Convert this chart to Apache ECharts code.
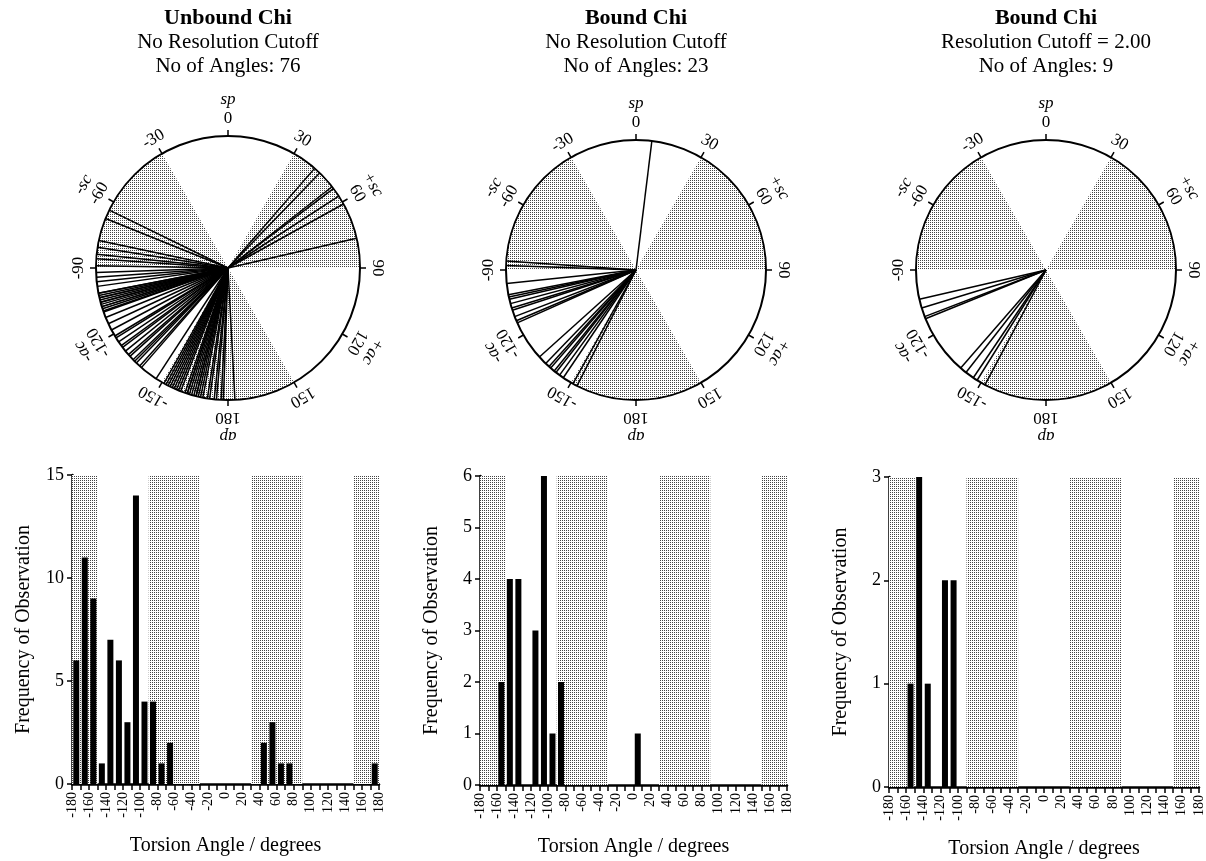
<!DOCTYPE html>
<html><head><meta charset="utf-8">
<script src="https://cdn.jsdelivr.net/npm/echarts@6/dist/echarts.min.js"></script>
<style>html,body{margin:0;padding:0;background:#fff}#c{width:1206px;height:861px}</style>
</head><body><div id="c"></div>
<script>
// ---------- data ----------
const titles = ['Unbound Chi', 'Bound Chi', 'Bound Chi'];
const subtitles1 = ['No Resolution Cutoff', 'No Resolution Cutoff', 'Resolution Cutoff = 2.00'];
const subtitles2 = ['No of Angles: 76', 'No of Angles: 23', 'No of Angles: 9'];

// individual torsion angles (degrees) drawn as rays on each dial
const unboundAngles = [
  -171, -172, -174, -175, -177, -178,
  -161, -162, -162, -163, -164, -165, -166, -166, -167, -168, -169,
  -151, -152, -153, -154, -155, -156, -157, -158, -159,
  -147,
  -131, -132, -134, -135, -136, -138, -139,
  -121, -122, -124, -126, -127, -129,
  -112, -115, -118,
  -101, -101, -102, -103, -103, -104, -105, -105, -106, -107, -107, -108, -109, -109.5,
  -92, -94, -96, -98,
  -81, -84, -86, -89,
  -78,
  -64, -68,
  41, 44,
  52, 53, 57,
  61,
  77,
  177
];
const boundAngles = [
  -151, -153,
  -141, -142, -144, -146,
  -132, -136, -138, -139,
  -111, -113, -114,
  -101, -102, -103, -105, -107, -108,
  -96,
  -86, -88,
  7
];
const boundCutAngles = [
  -152,
  -142, -146, -148,
  -139,
  -111, -112,
  -103, -107
];

// histogram bins (bin centre, degrees) and frequencies
const unboundBins   = [-175, -165, -155, -145, -135, -125, -115, -105, -95, -85, -75, -65, 45, 55, 65, 75, 175];
const unboundCounts = [6, 11, 9, 1, 7, 6, 3, 14, 4, 4, 1, 2, 2, 3, 1, 1, 1];
const boundBins     = [-155, -145, -135, -115, -105, -95, -85, 5];
const boundCounts   = [2, 4, 4, 3, 6, 1, 2, 1];
const boundCutBins  = [-155, -145, -135, -115, -105];
const boundCutCounts = [1, 3, 1, 2, 2];

const yMaxes = [15, 6, 3];
const yIntervals = [5, 1, 1];

// dial annotations
const dialTicks = [0, 30, 60, 90, 120, 150, 180, -150, -120, -90, -60, -30];
const regionNames = ['sp', '+sc', '+ac', 'ap', '-ac', '-sc'];
const regionAngles = [0, 60, 120, 180, -120, -60];
// shaded (sc / ap) ranges, used on dials and histograms
const shadedRanges = [[-90, -30], [30, 90], [150, 180], [-180, -150]];

// ---------- layout ----------
const dialCenters = [[228, 268], [636, 270], [1046, 270]];
const dialRadii = [132, 130, 130];
const grids = [
  {left: 72, top: 475, width: 307, height: 309},
  {left: 480, top: 476, width: 307, height: 309},
  {left: 889, top: 477, width: 311, height: 310}
];
const FONT = 'Liberation Serif, Times New Roman, serif';

// dotted pattern
const pc = document.createElement('canvas');
pc.width = 2; pc.height = 2;
const pctx = pc.getContext('2d');
pctx.fillStyle = '#ffffff'; pctx.fillRect(0, 0, 2, 2);
pctx.fillStyle = '#444444';
pctx.fillRect(0, 0, 1, 1);
const dotted = {image: pc, repeat: 'repeat'};

const angleSets = [unboundAngles, boundAngles, boundCutAngles];
const binSets = [unboundBins, boundBins, boundCutBins];
const countSets = [unboundCounts, boundCounts, boundCutCounts];

function radial(api, a, extra) {
  const c = api.coord([0, a]);
  const e = api.coord([1, a]);
  const dx = e[0] - c[0], dy = e[1] - c[1];
  const r = Math.sqrt(dx * dx + dy * dy);
  const k = (r + extra) / r;
  return [c[0] + dx * k, c[1] + dy * k];
}

const option = {
  backgroundColor: '#fff',
  animation: false,
  title: titles.map((t, i) => ({
    text: t,
    subtext: subtitles1[i] + '\n' + subtitles2[i],
    left: dialCenters[i][0],
    top: 6,
    textAlign: 'center',
    itemGap: 0,
    padding: 0,
    textStyle: {fontFamily: FONT, fontWeight: 'bold', fontSize: 22, color: '#000', lineHeight: 24},
    subtextStyle: {fontFamily: FONT, fontSize: 21, color: '#000', lineHeight: 24}
  })),
  polar: dialCenters.map((c, i) => ({center: c, radius: dialRadii[i]})),
  angleAxis: dialCenters.map((c, i) => ({
    polarIndex: i, type: 'value', min: -180, max: 180, interval: 30,
    startAngle: 270, clockwise: true,
    axisLine: {show: true, lineStyle: {color: '#000', width: 2}},
    axisTick: {show: true, inside: false, length: 6, lineStyle: {color: '#000', width: 1.5}},
    axisLabel: {show: false},
    splitLine: {show: false}
  })),
  radiusAxis: dialCenters.map((c, i) => ({
    polarIndex: i, type: 'value', min: 0, max: 1, show: false,
    axisLine: {show: false}, axisTick: {show: false}, axisLabel: {show: false}, splitLine: {show: false}
  })),
  grid: grids,
  xAxis: grids.map((g, i) => ({
    gridIndex: i, type: 'value', min: -180, max: 180, interval: 20,
    axisLine: {show: true, onZero: false, lineStyle: {color: '#000', width: 2.5}},
    axisTick: {show: true, length: 6, lineStyle: {color: '#000', width: 1.5}},
    minorTick: {show: true, splitNumber: 2, length: 6, lineStyle: {color: '#000', width: 1.5}},
    axisLabel: {rotate: 90, fontSize: 14, fontFamily: FONT, color: '#000', margin: 8},
    splitLine: {show: false},
    name: 'Torsion Angle / degrees', nameLocation: 'middle', nameGap: 52,
    nameTextStyle: {fontSize: 20, fontFamily: FONT, color: '#000'}
  })),
  yAxis: grids.map((g, i) => ({
    gridIndex: i, type: 'value', min: 0, max: yMaxes[i], interval: yIntervals[i],
    axisLine: {show: true, onZero: false, lineStyle: {color: '#000', width: 2.5}},
    axisTick: {show: true, length: 5, lineStyle: {color: '#000', width: 1.5}},
    axisLabel: {fontSize: 18, fontFamily: FONT, color: '#000', margin: 8},
    splitLine: {show: false},
    name: 'Frequency of Observation', nameLocation: 'middle', nameGap: 38,
    nameTextStyle: {fontSize: 20, fontFamily: FONT, color: '#000'}
  })),
  series: []
};

for (let i = 0; i < 3; i++) {
  // dial shaded sectors
  option.series.push({
    type: 'custom', coordinateSystem: 'polar', polarIndex: i, z: 1, silent: true,
    data: shadedRanges.map(r => [1, r[0], r[1]]),
    renderItem: function (params, api) {
      const a0 = api.value(1), a1 = api.value(2);
      const c = api.coord([0, a0]);
      const p0 = api.coord([1, a0]);
      const p1 = api.coord([1, a1]);
      const r = Math.sqrt((p0[0] - c[0]) ** 2 + (p0[1] - c[1]) ** 2);
      return {
        type: 'sector',
        shape: {
          cx: c[0], cy: c[1], r0: 0, r: r - 1,
          startAngle: Math.atan2(p0[1] - c[1], p0[0] - c[0]),
          endAngle: Math.atan2(p1[1] - c[1], p1[0] - c[0]),
          clockwise: true
        },
        style: {fill: dotted, stroke: null}
      };
    }
  });
  // rays
  option.series.push({
    type: 'custom', coordinateSystem: 'polar', polarIndex: i, z: 3, silent: true,
    data: angleSets[i].map(a => [1, a]),
    renderItem: function (params, api) {
      const a = api.value(1);
      const c = api.coord([0, a]);
      const e = api.coord([api.value(0), a]);
      return {type: 'line', shape: {x1: c[0], y1: c[1], x2: e[0], y2: e[1]},
        style: {stroke: '#000', lineWidth: 1.5}};
    }
  });
  // tick labels on dial
  option.series.push({
    type: 'custom', coordinateSystem: 'polar', polarIndex: i, z: 4, silent: true,
    data: dialTicks.map(t => [1, t]),
    renderItem: function (params, api) {
      const a = api.value(1);
      const p = radial(api, a, 17);
      return {type: 'text', x: p[0], y: p[1], rotation: -a * Math.PI / 180,
        style: {text: String(a), fontSize: 17, fontFamily: FONT, fill: '#000', align: 'center', verticalAlign: 'middle'}};
    }
  });
  // region names on dial
  option.series.push({
    type: 'custom', coordinateSystem: 'polar', polarIndex: i, z: 4, silent: true,
    data: regionAngles.map(a => [1, a]),
    renderItem: function (params, api) {
      const a = api.value(1);
      const off = (a === 0 || a === 180) ? 36 : 35;
      const p = radial(api, a, off);
      return {type: 'text', x: p[0], y: p[1], rotation: -a * Math.PI / 180,
        style: {text: regionNames[params.dataIndex], fontSize: 17, fontStyle: 'italic', fontFamily: FONT, fill: '#000', align: 'center', verticalAlign: 'middle'}};
    }
  });
  // histogram shading
  option.series.push({
    type: 'custom', xAxisIndex: i, yAxisIndex: i, z: 1, silent: true,
    data: shadedRanges.map(r => [r[0], r[1]]),
    encode: {x: [0, 1]},
    renderItem: function (params, api) {
      const x0 = api.coord([api.value(0), 0])[0];
      const x1 = api.coord([api.value(1), 0])[0];
      const cs = params.coordSys;
      return {type: 'rect', shape: {x: Math.min(x0, x1), y: cs.y, width: Math.abs(x1 - x0), height: cs.height},
        style: {fill: dotted, stroke: null}};
    }
  });
  // histogram bars
  option.series.push({
    type: 'bar', xAxisIndex: i, yAxisIndex: i, z: 3, silent: true,
    barWidth: 6,
    itemStyle: {color: '#000'},
    data: binSets[i].map((b, j) => [b, countSets[i][j]])
  });
}

const chart = echarts.init(document.getElementById('c'), null, {renderer: 'canvas'});
chart.setOption(option);
</script>
</body></html>
